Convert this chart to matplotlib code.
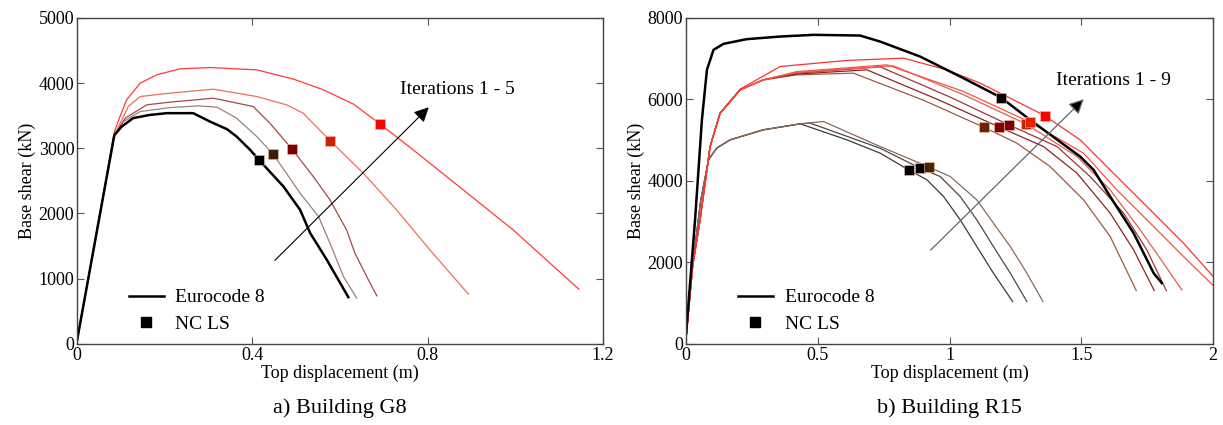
import numpy as np
import matplotlib
matplotlib.use("Agg")
import matplotlib.pyplot as plt
from matplotlib.lines import Line2D

plt.rcParams['font.family'] = ['Liberation Serif', 'DejaVu Serif']

# ---------------- Building G8 ----------------
g8_ec8_x = [0, 0.085, 0.102, 0.128, 0.165, 0.205, 0.265, 0.303, 0.342, 0.364, 0.395, 0.415, 0.471, 0.509, 0.532, 0.570, 0.619]
g8_ec8_y = [50, 3200, 3333, 3462, 3510, 3538, 3538, 3410, 3293, 3180, 2975, 2822, 2413, 2055, 1698, 1288, 716]

g8_it1_x = [0, 0.085, 0.106, 0.144, 0.212, 0.277, 0.319, 0.364, 0.410, 0.448, 0.509, 0.551, 0.577, 0.608, 0.638]
g8_it1_y = [50, 3200, 3410, 3563, 3624, 3650, 3630, 3462, 3180, 2905, 2311, 1953, 1544, 1032, 701]

g8_it2_x = [0, 0.085, 0.110, 0.159, 0.212, 0.311, 0.402, 0.440, 0.490, 0.539, 0.577, 0.615, 0.634, 0.661, 0.684]
g8_it2_y = [50, 3200, 3462, 3666, 3707, 3768, 3640, 3385, 2991, 2566, 2209, 1748, 1391, 1032, 736]

g8_it3_x = [0, 0.085, 0.117, 0.144, 0.212, 0.311, 0.410, 0.478, 0.516, 0.577, 0.653, 0.729, 0.805, 0.893]
g8_it3_y = [50, 3200, 3640, 3793, 3845, 3906, 3793, 3666, 3538, 3118, 2618, 2055, 1442, 762]

g8_it4_x = [0, 0.085, 0.098, 0.113, 0.144, 0.182, 0.235, 0.303, 0.410, 0.494, 0.562, 0.631, 0.691, 0.767, 0.881, 0.995, 1.145]
g8_it4_y = [50, 3250, 3486, 3742, 3998, 4126, 4218, 4238, 4202, 4060, 3896, 3676, 3374, 2975, 2362, 1748, 839]

g8_ls_x = [0.415, 0.448, 0.490, 0.577, 0.691]
g8_ls_y = [2822, 2905, 2991, 3118, 3374]

# ---------------- Building R15 ----------------
r15_ec8_x = [0, 0.034, 0.060, 0.079, 0.104, 0.142, 0.230, 0.357, 0.483, 0.660, 0.736, 0.888, 1.052, 1.195,
             1.305, 1.495, 1.546, 1.609, 1.698, 1.774, 1.805]
r15_ec8_y = [250, 3043, 5500, 6724, 7215, 7362, 7477, 7541, 7583, 7566, 7418, 7050, 6520, 6044,
             5497, 4597, 4270, 3615, 2717, 1735, 1490]

# lower group (iterations 1-3)
r15_l1_x = [0, 0.025, 0.055, 0.085, 0.116, 0.167, 0.293, 0.433, 0.610, 0.736, 0.844, 0.914, 0.977, 1.040, 1.103, 1.166, 1.239]
r15_l1_y = [200, 1922, 3500, 4515, 4802, 5006, 5252, 5399, 5006, 4680, 4270, 4025, 3615, 3043, 2388, 1735, 1038]

r15_l2_x = [0, 0.025, 0.055, 0.085, 0.116, 0.167, 0.293, 0.433, 0.471, 0.736, 0.888, 0.964, 1.040, 1.103, 1.166, 1.230, 1.293]
r15_l2_y = [200, 1922, 3500, 4515, 4802, 5006, 5252, 5399, 5416, 4800, 4311, 4106, 3615, 3043, 2388, 1735, 1038]

r15_l3_x = [0, 0.025, 0.055, 0.085, 0.116, 0.167, 0.293, 0.433, 0.521, 0.736, 0.923, 1.002, 1.103, 1.166, 1.230, 1.293, 1.354]
r15_l3_y = [200, 1922, 3500, 4515, 4802, 5006, 5252, 5399, 5456, 4842, 4336, 4106, 3534, 2962, 2388, 1735, 1038]

# upper group (iterations 4-9)
r15_u1_x = [0, 0.025, 0.053, 0.091, 0.129, 0.205, 0.293, 0.420, 0.635, 0.900, 1.129, 1.255, 1.381, 1.508, 1.609, 1.708]
r15_u1_y = [150, 1922, 3043, 4842, 5661, 6233, 6479, 6600, 6643, 5980, 5318, 4925, 4351, 3534, 2634, 1308]

r15_u2_x = [0, 0.025, 0.053, 0.091, 0.129, 0.205, 0.293, 0.420, 0.686, 0.950, 1.189, 1.356, 1.483, 1.609, 1.698, 1.776]
r15_u2_y = [150, 1922, 3043, 4842, 5661, 6233, 6479, 6620, 6724, 6010, 5318, 4842, 4189, 3207, 2307, 1308]

r15_u3_x = [0, 0.025, 0.053, 0.091, 0.129, 0.205, 0.293, 0.420, 0.736, 1.000, 1.227, 1.407, 1.533, 1.660, 1.748, 1.822]
r15_u3_y = [150, 1922, 3043, 4842, 5661, 6233, 6479, 6643, 6798, 6060, 5367, 4842, 4106, 3207, 2307, 1308]

r15_u4_x = [0, 0.025, 0.053, 0.091, 0.129, 0.205, 0.293, 0.420, 0.787, 1.050, 1.289, 1.483, 1.609, 1.723, 1.811, 1.881]
r15_u4_y = [150, 1922, 3043, 4842, 5661, 6233, 6479, 6660, 6822, 6120, 5399, 4597, 3779, 2798, 1980, 1325]

r15_u5_x = [0, 0.025, 0.053, 0.091, 0.129, 0.205, 0.293, 0.420, 0.762, 1.050, 1.305, 1.508, 1.634, 1.761, 1.887, 2.000]
r15_u5_y = [150, 1922, 3043, 4842, 5661, 6233, 6479, 6680, 6847, 6200, 5440, 4680, 3779, 2962, 2144, 1430]

r15_u6_x = [0, 0.025, 0.053, 0.091, 0.129, 0.205, 0.357, 0.610, 0.825, 0.989, 1.116, 1.242, 1.360, 1.495, 1.634, 1.761, 1.887, 2.000]
r15_u6_y = [150, 1922, 3043, 4842, 5661, 6250, 6806, 6955, 7011, 6724, 6397, 5988, 5602, 5006, 4106, 3288, 2471, 1652]

r15_ls_x = [1.195, 0.844, 0.888, 0.923, 1.129, 1.189, 1.227, 1.289, 1.305, 1.360]
r15_ls_y = [6044, 4270, 4311, 4336, 5318, 5318, 5367, 5399, 5440, 5602]

fig = plt.figure(figsize=(12.23, 4.25), dpi=100)
ax1 = fig.add_axes([0.063, 0.191, 0.430, 0.767])
ax2 = fig.add_axes([0.561, 0.191, 0.431, 0.767])

# left panel
ax1.plot(g8_it1_x, g8_it1_y, color='#9c8272', lw=0.9)
ax1.plot(g8_it2_x, g8_it2_y, color='#a24a46', lw=0.9)
ax1.plot(g8_it3_x, g8_it3_y, color='#e8705c', lw=0.9)
ax1.plot(g8_it4_x, g8_it4_y, color='#ff3a3a', lw=0.9)
ax1.plot(g8_ec8_x, g8_ec8_y, color='black', lw=1.8)
g8_ls_colors = ['#000000', '#3b1f05', '#7a0000', '#cc2200', '#ff0000']
for x, y, c in zip(g8_ls_x, g8_ls_y, g8_ls_colors):
    ax1.plot(x, y, 's', color=c, ms=7, mec='#f0c0b0', mew=0.4)

ax1.annotate('', xy=(0.807, 3658), xytext=(0.447, 1250),
             arrowprops=dict(arrowstyle='-|>', color='black', lw=0.8, mutation_scale=22))
ax1.text(0.736, 3903, 'Iterations 1 - 5', fontsize=14, va='center', ha='left')

# right panel
ax2.plot(r15_l1_x, r15_l1_y, color='#3a3a3a', lw=0.9)
ax2.plot(r15_l2_x, r15_l2_y, color='#4a4a4a', lw=0.9)
ax2.plot(r15_l3_x, r15_l3_y, color='#8a6a55', lw=0.9)
ax2.plot(r15_u1_x, r15_u1_y, color='#9a5a45', lw=0.9)
ax2.plot(r15_u2_x, r15_u2_y, color='#8b2424', lw=0.9)
ax2.plot(r15_u3_x, r15_u3_y, color='#a03535', lw=0.9)
ax2.plot(r15_u4_x, r15_u4_y, color='#e0604e', lw=0.9)
ax2.plot(r15_u5_x, r15_u5_y, color='#ff5040', lw=0.9)
ax2.plot(r15_u6_x, r15_u6_y, color='#ff3030', lw=0.9)
ax2.plot(r15_ec8_x, r15_ec8_y, color='black', lw=1.8)
r15_ls_colors = ['#000000', '#000000', '#000000', '#4a2400', '#6b2200', '#800000', '#7a0000', '#cc2000', '#e82000', '#ff0000']
for x, y, c in zip(r15_ls_x, r15_ls_y, r15_ls_colors):
    ax2.plot(x, y, 's', color=c, ms=7, mec='#f0c0b0', mew=0.4)

ax2.annotate('', xy=(1.516, 6053), xytext=(0.920, 2250),
             arrowprops=dict(arrowstyle='-|>', color='#666666', lw=0.9, mutation_scale=22,
                             fc='black', ec='#666666'))
ax2.text(1.404, 6462, 'Iterations 1 - 9', fontsize=14, va='center', ha='left')

ax1.set_xlim(0, 1.2)
ax1.set_ylim(0, 5000)
ax1.set_xticks([0, 0.4, 0.8, 1.2])
ax1.set_xticklabels(['0', '0.4', '0.8', '1.2'])
ax1.set_yticks([0, 1000, 2000, 3000, 4000, 5000])

ax2.set_xlim(0, 2)
ax2.set_ylim(0, 8000)
ax2.set_xticks([0, 0.5, 1, 1.5, 2])
ax2.set_xticklabels(['0', '0.5', '1', '1.5', '2'])
ax2.set_yticks([0, 2000, 4000, 6000, 8000])

handles = [Line2D([], [], color='black', lw=1.8),
           Line2D([], [], ls='none', marker='s', color='black', ms=7)]
for ax, title in [(ax1, 'a) Building G8'), (ax2, 'b) Building R15')]:
    ax.tick_params(direction='in', top=True, right=True, length=5, width=0.8,
                   colors='#555555', labelcolor='black', labelsize=13, pad=2)
    for s in ax.spines.values():
        s.set_color('#444444')
        s.set_linewidth(1.0)
    ax.set_xlabel('Top displacement (m)', fontsize=13, labelpad=1)
    ax.set_ylabel('Base shear (kN)', fontsize=13, labelpad=2)
    ax.legend(handles, ['Eurocode 8', 'NC LS'], loc='lower left', bbox_to_anchor=(0.065, -0.02),
              frameon=False, fontsize=14, handlelength=1.8, handletextpad=0.6, labelspacing=0.45)
    pos = ax.get_position()
    fig.text((pos.x0 + pos.x1) / 2, 0.04, title, fontsize=16, ha='center', va='center')

fig.savefig('out.png', dpi=100)
